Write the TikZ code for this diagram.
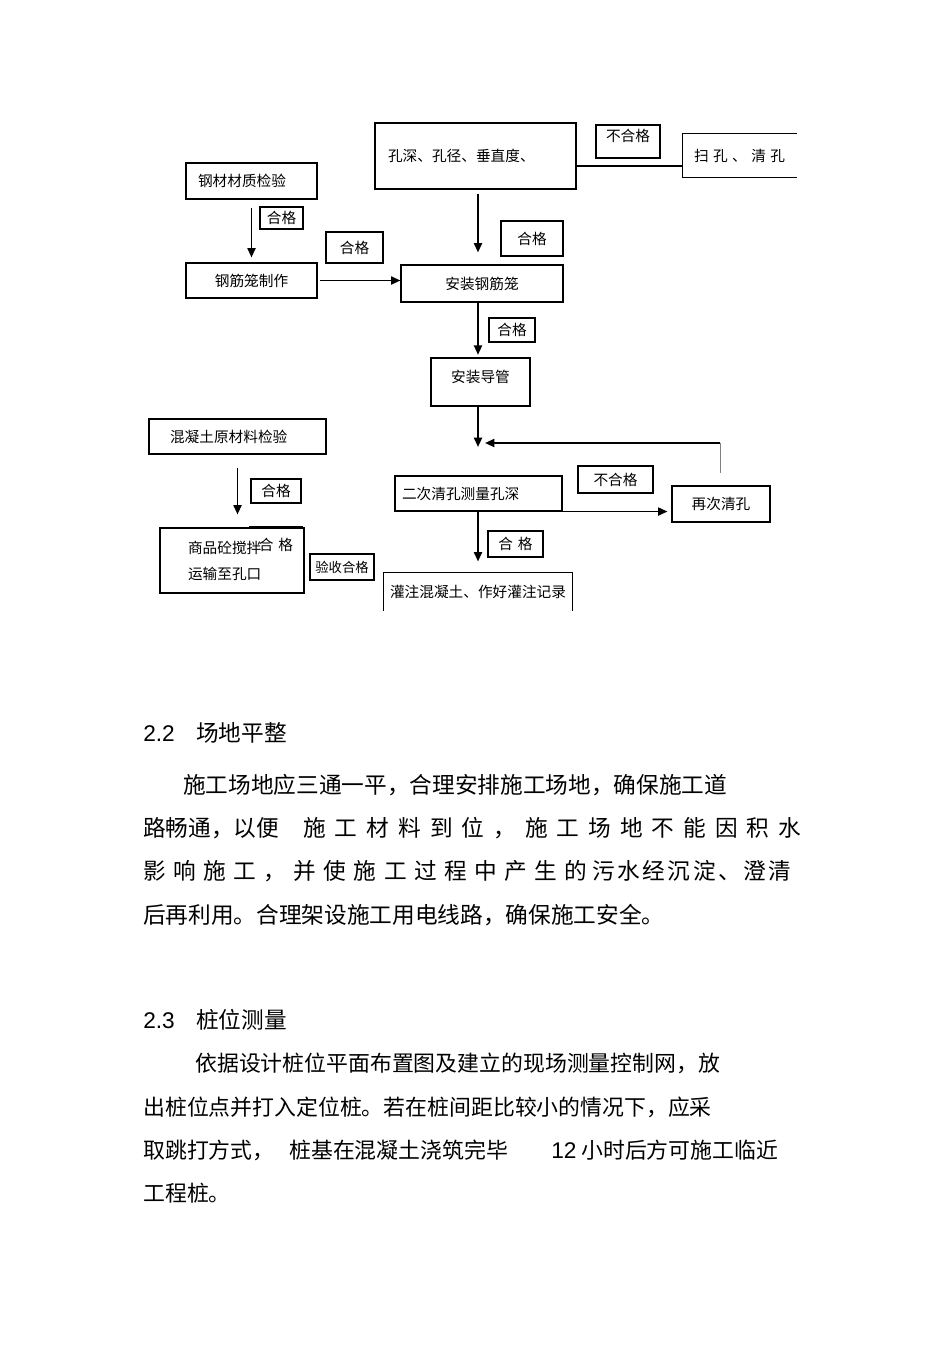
\documentclass[tikz,border=0pt]{standalone}
\usepackage{fontspec}
\setmainfont{Liberation Sans}
\newfontfamily\cjk{Noto Sans CJK SC}
\usetikzlibrary{arrows.meta}

\begin{document}
\begin{tikzpicture}[x=0.75pt, y=-0.75pt,
    pbox/.style={draw, line width=0.8pt, inner sep=0pt,
        font=\cjk\fontsize{11}{13}\selectfont},
    flow/.style={line width=1.4pt, -{Triangle[length=7pt, width=6pt]}},
    body/.style={anchor=base west, inner sep=0pt,
        font=\cjk\fontsize{17}{20}\selectfont},
    bodys/.style={body, font=\cjk\fontsize{16.4}{20}\selectfont},
    num/.style={anchor=base west, inner sep=0pt, font=\fontsize{17}{20}\selectfont}]
    \useasboundingbox (0,0) rectangle (950,1345);

    % drilling check
    \node[pbox, minimum width=150.75pt, minimum height=49.5pt,
        text width=131.25pt, inner xsep=9.75pt, align=left]
        (hole) at (475.5,156) {孔深、孔径、垂直度、};
    \node[pbox, minimum width=48pt, minimum height=24.75pt, text depth=9pt]
        (noA) at (628,141.5) {不合格};
    \node[pbox, draw=none, minimum width=84.75pt, minimum height=32.25pt]
        (sweep) at (739.5,155.5)
        {\makebox[68.25pt][s]{扫\hfill 孔\hfill 、\hfill 清\hfill 孔}};
    \draw[line width=0.8pt] (sweep.north east) -- (sweep.north west)
        -- (sweep.south west) -- (sweep.south east);
    \coordinate (holeout) at ([yshift=-7.5pt]hole.east);
    \draw[line width=0.8pt] (holeout) -- (holeout -| sweep.west);

    % steel cage
    \node[pbox, minimum width=98.25pt, minimum height=27pt,
        text width=80.25pt, inner xsep=9pt, align=left]
        (steel) at (251.5,181) {钢材材质检验};
    \node[pbox, minimum width=32.25pt, minimum height=16.5pt] (okA) at (281.5,218) {合格};
    \node[pbox, minimum width=98.25pt, minimum height=26.25pt] (cage) at (251.5,280.5) {钢筋笼制作};
    \node[pbox, minimum width=42.75pt, minimum height=23.25pt] (okB) at (354.5,247.5) {合格};
    \node[pbox, minimum width=121.5pt, minimum height=27.75pt] (install) at (482,283.5) {安装钢筋笼};
    \node[pbox, minimum width=46.5pt, minimum height=26.25pt] (okC) at (532,238.5) {合格};
    \node[pbox, minimum width=34.5pt, minimum height=18pt] (okD) at (512,330) {合格};
    \node[pbox, minimum width=74.25pt, minimum height=36pt, text depth=9pt]
        (pipe) at (480.5,382) {安装导管};

    % concrete
    \node[pbox, minimum width=132.75pt, minimum height=26.25pt,
        text width=101.25pt, inner xsep=15.75pt, align=left]
        (concmat) at (237.5,436.5) {混凝土原材料检验};
    \node[pbox, minimum width=37.5pt, minimum height=18pt] (okE) at (276,491) {合格};
    \node[pbox, minimum width=108pt, minimum height=48.75pt,
        text width=66pt, inner xsep=21pt, align=left,
        font=\cjk\fontsize{11}{19.5}\selectfont]
        (mix) at (232,560.5) {商品砼搅拌\\运输至孔口};
    \node[pbox, draw=none, minimum width=39pt, minimum height=27pt] (okF) at (276,545) {合\,\,格};
    \draw[line width=1.3pt] (okF.north west) -- (okF.north east);
    \node[pbox, minimum width=48pt, minimum height=19.5pt,
        font=\cjk\fontsize{10}{12}\selectfont] (accept) at (342,567) {验收合格};

    % second cleaning
    \node[pbox, minimum width=125.25pt, minimum height=26.25pt,
        text width=114.75pt, inner xsep=5.25pt, align=left]
        (second) at (478.5,493.5) {二次清孔测量孔深};
    \node[pbox, minimum width=56.25pt, minimum height=20.25pt] (noB) at (615.5,479.5) {不合格};
    \node[pbox, minimum width=73.5pt, minimum height=27pt] (again) at (721,504) {再次清孔};
    \node[pbox, minimum width=41.25pt, minimum height=19.5pt] (okG) at (515.5,544) {合\,\,格};
    \node[pbox, draw=none, minimum width=141pt, minimum height=27.75pt] (pour) at (478,591.5)
        {灌注混凝土、作好灌注记录};
    \draw[line width=0.8pt] (pour.south west) -- (pour.north west)
        -- (pour.north east) -- (pour.south east);

    % connectors
    \coordinate (axis) at (478,0);
    \coordinate (merge) at (478,447);
    \coordinate (loop) at (720,443);
    \coordinate (loopfoot) at (720,473);
    \draw[flow, shorten <=3pt, shorten >=9pt] (hole.south -| axis) -- (install.north -| axis);
    \draw[flow, shorten <=6pt, shorten >=3.75pt] (steel.south) -- (steel.south |- cage.north);
    \draw[flow, shorten <=1.5pt] (cage.east) -- (cage.east -| install.west);
    \draw[flow, shorten >=2pt] (install.south -| axis) -- (pipe.north -| axis);
    \draw[flow] (pipe.south -| axis) -- (merge);
    \draw[line width=0.5pt, gray] (loopfoot) -- (loop);
    \draw[flow, shorten >=5.25pt] (loop) -- (merge |- loop);
    \draw[flow, shorten >=3pt] (second.south east) -- (second.south east -| again.west);
    \draw[flow, shorten >=8.25pt] (second.south -| axis) -- (pour.north -| axis);
    \draw[flow, shorten <=9.75pt, shorten >=9.75pt] (concmat.south) -- (concmat.south |- mix.north);

    % section 2.2
    \node[num] (s22) at (143,741) {2.2};
    \node[body] (t22) at (196,741) {场地平整};
    \node[body] (p1) at (183,793) {施工场地应三通一平，合理安排施工场地，确保施工道};
    \node[body] (p2a) at (143,836) {路畅通，以便};
    \node[body] (p2b) at (303,836)
        {\makebox[373.5pt][s]{施\hfill 工\hfill 材\hfill 料\hfill 到\hfill 位\hfill ，\hfill
        施\hfill 工\hfill 场\hfill 地\hfill 不\hfill 能\hfill 因\hfill 积\hfill 水}};
    \node[body] (p3a) at (143,879)
        {\makebox[333pt][s]{影\hfill 响\hfill 施\hfill 工\hfill ，\hfill 并\hfill 使\hfill
        施\hfill 工\hfill 过\hfill 程\hfill 中\hfill 产\hfill 生\hfill 的}};
    \node[body] (p3b) at (592,879)
        {\makebox[149.25pt][s]{污\hfill 水\hfill 经\hfill 沉\hfill 淀\hfill 、\hfill 澄\hfill 清}};
    \node[body] (p4) at (143,923) {后再利用。合理架设施工用电线路，确保施工安全。};

    % section 2.3
    \node[num] (s23) at (143,1028) {2.3};
    \node[body] (t23) at (196,1028) {桩位测量};
    \node[bodys] (q1) at (195,1071) {依据设计桩位平面布置图及建立的现场测量控制网，放};
    \node[bodys] (q2) at (143,1115) {出桩位点并打入定位桩。若在桩间距比较小的情况下，应采};
    \node[bodys] (q3a) at (143,1158) {取跳打方式，};
    \node[bodys] (q3b) at (289,1158) {桩基在混凝土浇筑完毕};
    \node[num] (q3c) at (551,1158) {12};
    \node[bodys] (q3d) at (581,1158) {小时后方可施工临近};
    \node[bodys] (q4) at (143,1201) {工程桩。};
\end{tikzpicture}
\end{document}
